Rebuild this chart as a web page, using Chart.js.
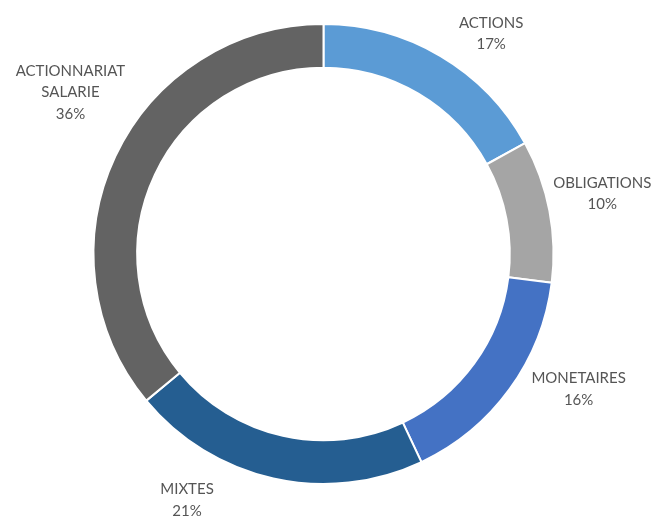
<!DOCTYPE html>
<html>
<head>
<meta charset="utf-8">
<script src="https://cdn.jsdelivr.net/npm/chart.js@4"></script>
<style>
  html, body { margin: 0; padding: 0; background: #fff; }
  #wrap { width: 651px; height: 518px; }
</style>
</head>
<body>
<div id="wrap"><canvas id="donut"></canvas></div>
<script>
const categories = ["ACTIONS", "OBLIGATIONS", "MONETAIRES", "MIXTES", "ACTIONNARIAT\nSALARIE"];
const shares = [17, 10, 16, 21, 36];
const sliceColors = ["#5B9BD5", "#A5A5A5", "#4472C4", "#255E91", "#636363"];

// labels were dragged by hand in the original, so each gets a small nudge
// (angle in degrees from slice middle, distance as a multiple of outer radius)
const labelNudge = [
  { turn: 6.7, reach: 1.203 },
  { turn: -1.4, reach: 1.24 },
  { turn: -8.1, reach: 1.255 },
  { turn: 16.4, reach: 1.224 },
  { turn: 7.4, reach: 1.306 },
];

const outsideLabels = {
  id: "outsideLabels",
  afterDatasetsDraw(chart) {
    const ctx = chart.ctx;
    const meta = chart.getDatasetMeta(0);
    const total = shares.reduce((a, b) => a + b, 0);
    ctx.save();
    ctx.font = "15px Lato";
    ctx.fillStyle = "#555555";
    ctx.textAlign = "center";
    ctx.textBaseline = "middle";
    meta.data.forEach((arc, i) => {
      const { x, y, startAngle, endAngle, outerRadius } = arc.getProps(
        ["x", "y", "startAngle", "endAngle", "outerRadius"],
        true
      );
      const mid = (startAngle + endAngle) / 2 + (labelNudge[i].turn * Math.PI) / 180;
      const r = outerRadius * labelNudge[i].reach;
      const cx = x + Math.cos(mid) * r;
      const cy = y + Math.sin(mid) * r;
      const lines = categories[i].split("\n");
      lines.push(Math.round((shares[i] / total) * 100) + "%");
      const lh = 21.5;
      const top = cy - ((lines.length - 1) * lh) / 2;
      lines.forEach((t, k) => ctx.fillText(t, cx, top + k * lh));
    });
    ctx.restore();
  },
};

new Chart(document.getElementById("donut"), {
  type: "doughnut",
  data: {
    labels: categories,
    datasets: [
      {
        data: shares,
        backgroundColor: sliceColors,
        borderColor: "#ffffff",
        borderWidth: 2,
        hoverOffset: 0,
      },
    ],
  },
  options: {
    responsive: true,
    maintainAspectRatio: false,
    animation: false,
    cutout: "81%",
    layout: { padding: { top: 23, bottom: 33, left: 0, right: 4 } },
    plugins: {
      legend: { display: false },
      tooltip: { enabled: false },
    },
  },
  plugins: [outsideLabels],
});
</script>
</body>
</html>
